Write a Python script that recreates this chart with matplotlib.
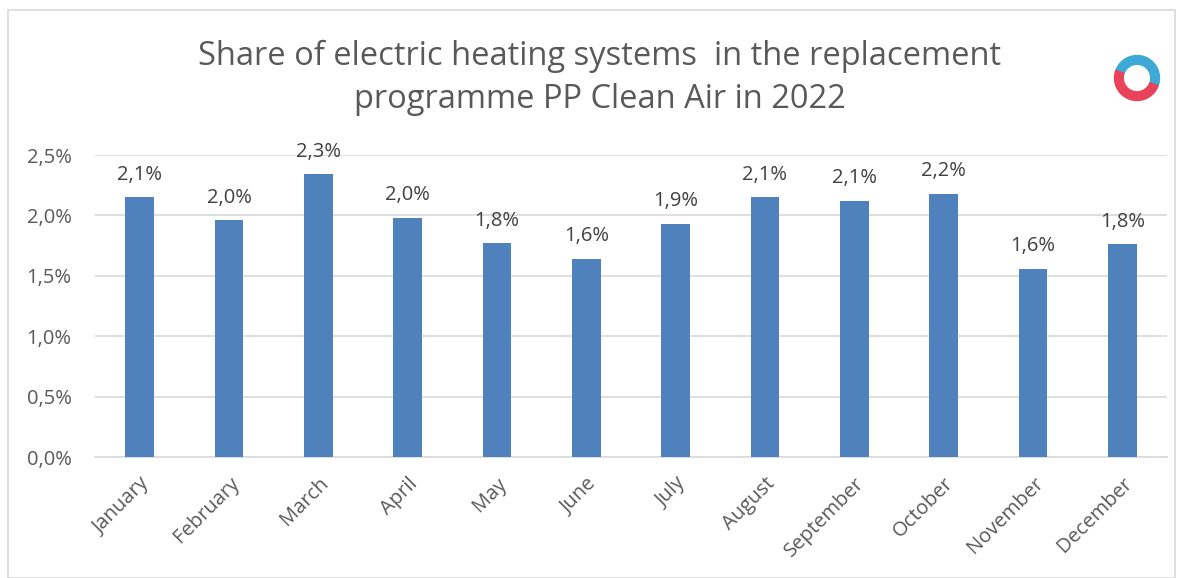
import matplotlib
matplotlib.use("Agg")
import matplotlib.pyplot as plt
from matplotlib.patches import Rectangle, Wedge
import numpy as np

months = ["January", "February", "March", "April", "May", "June", "July",
          "August", "September", "October", "November", "December"]
shares = [2.15, 1.96, 2.34, 1.98, 1.77, 1.64, 1.93, 2.15, 2.12, 2.18, 1.56, 1.76]
yticks = [0.0, 0.5, 1.0, 1.5, 2.0, 2.5]

plt.rcParams['font.family'] = ['Open Sans', 'DejaVu Sans']
W, H = 1184, 578
fig = plt.figure(figsize=(W / 100, H / 100), dpi=100)
fig.patch.set_facecolor('white')

# chart border
fig.add_artist(Rectangle((8 / W, 0), (1175 - 8) / W, (578 - 10) / H, transform=fig.transFigure,
                         fill=False, edgecolor='#d9d9d9', linewidth=1.2))

ax = fig.add_axes([95 / W, 1 - 457 / H, (1167 - 95) / W, (457 - 155) / H])
x = np.arange(len(months))
ax.bar(x, shares, width=0.32, color='#4f81bd', zorder=3)
ax.set_xlim(-0.5, len(months) - 0.5)
ax.set_ylim(0, 2.5)
ax.set_yticks(yticks)
ax.set_yticklabels([f"{v:.1f}%".replace('.', ',') for v in yticks])
ax.yaxis.grid(True, color='#d9d9d9', linewidth=1.2, zorder=0)
for s in ['top', 'right', 'left']:
    ax.spines[s].set_visible(False)
ax.spines['bottom'].set_color('#d9d9d9')
ax.spines['bottom'].set_linewidth(1.2)
ax.tick_params(axis='both', length=0, labelsize=14.5, colors='#595959')
ax.tick_params(axis='y', pad=17)
ax.set_xticks(x)
ax.set_xticklabels(months, rotation=45, ha='right', rotation_mode='anchor')
ax.tick_params(axis='x', pad=12)

for xi, v in zip(x, shares):
    ax.annotate(f"{v:.1f}%".replace('.', ','), (xi, v), xytext=(0, 9), textcoords='offset points',
                ha='center', va='bottom', fontsize=14.5, color='#404040')

fig.text(600 / W, 1 - 78 / H, "Share of electric heating systems  in the replacement\nprogramme PP Clean Air in 2022",
         ha='center', va='center', fontsize=23.5, color='#595959', linespacing=1.4)

# small logo
lax = fig.add_axes([1112 / W, 1 - 103 / H, 50 / W, 50 / H])
lax.set_xlim(-1, 1)
lax.set_ylim(-1, 1)
lax.set_aspect('equal')
lax.axis('off')
lax.add_patch(Wedge((0, 0), 0.9, -20, 160, width=0.35, color='#3fa9d6'))
lax.add_patch(Wedge((0, 0), 0.9, 160, 340, width=0.35, color='#e8435a'))

fig.savefig("out.png", dpi=100, facecolor='white')
